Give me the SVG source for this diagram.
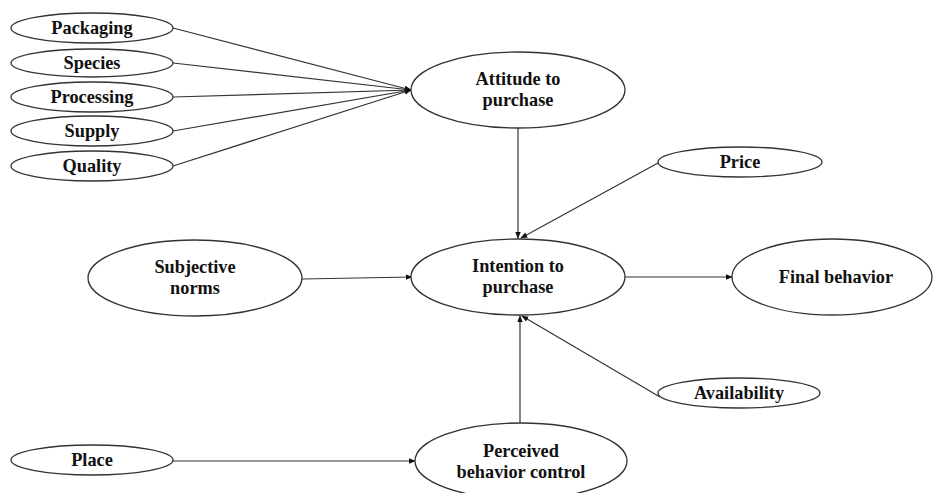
<svg xmlns="http://www.w3.org/2000/svg" width="934" height="493" viewBox="0 0 934 493">
<style>
.n{fill:#fff;stroke:#333;stroke-width:1.3}
.t{font-family:'Liberation Serif','DejaVu Serif',serif;font-weight:700;font-size:18.3px;fill:#111;text-anchor:middle}
.c{stroke:#333;stroke-width:1.2;fill:none;marker-end:url(#ah)}
</style>
<defs>
<marker id="ah" viewBox="0 0 10 10" refX="9" refY="5" markerWidth="7" markerHeight="7" markerUnits="userSpaceOnUse" orient="auto">
<path d="M0,1 L10,5 L0,9 z" fill="#111"/>
</marker>
</defs>
<rect width="934" height="493" fill="#fff"/>
<g id="connectors">
<line class="c" x1="173" y1="28" x2="411" y2="90"/>
<line class="c" x1="173" y1="63" x2="411" y2="90"/>
<line class="c" x1="173" y1="97" x2="411" y2="90"/>
<line class="c" x1="173" y1="131" x2="411" y2="90"/>
<line class="c" x1="173" y1="166" x2="411" y2="90"/>
<line class="c" x1="518" y1="128" x2="518" y2="238"/>
<line class="c" x1="658" y1="163" x2="521" y2="238"/>
<line class="c" x1="302" y1="279" x2="412" y2="277"/>
<line class="c" x1="625" y1="277" x2="732" y2="277"/>
<line class="c" x1="660" y1="397" x2="522" y2="316"/>
<line class="c" x1="520" y1="423" x2="520" y2="316"/>
<line class="c" x1="173" y1="461" x2="415" y2="461"/>
</g>
<g id="packaging"><ellipse class="n" cx="92" cy="28" rx="81" ry="15"/><text class="t" x="92" y="34">Packaging</text></g>
<g id="species"><ellipse class="n" cx="92" cy="63" rx="81" ry="14"/><text class="t" x="92" y="69">Species</text></g>
<g id="processing"><ellipse class="n" cx="92" cy="97" rx="81" ry="15"/><text class="t" x="92" y="103">Processing</text></g>
<g id="supply"><ellipse class="n" cx="92" cy="131" rx="81" ry="15"/><text class="t" x="92" y="137">Supply</text></g>
<g id="quality"><ellipse class="n" cx="92" cy="166" rx="81" ry="15"/><text class="t" x="92" y="172">Quality</text></g>
<g id="attitude"><ellipse class="n" cx="518" cy="90" rx="107" ry="38"/><text class="t" x="518" y="85">Attitude to</text><text class="t" x="518" y="106">purchase</text></g>
<g id="price"><ellipse class="n" cx="740" cy="162" rx="82" ry="15"/><text class="t" x="740" y="168">Price</text></g>
<g id="subjective"><ellipse class="n" cx="195" cy="278" rx="107" ry="38"/><text class="t" x="195" y="273">Subjective</text><text class="t" x="195" y="294">norms</text></g>
<g id="intention"><ellipse class="n" cx="518" cy="277" rx="107" ry="38"/><text class="t" x="518" y="272">Intention to</text><text class="t" x="518" y="293">purchase</text></g>
<g id="final"><ellipse class="n" cx="832" cy="277" rx="100" ry="38"/><text class="t" x="836" y="283">Final behavior</text></g>
<g id="availability"><ellipse class="n" cx="739" cy="393" rx="81" ry="15"/><text class="t" x="739" y="399">Availability</text></g>
<g id="place"><ellipse class="n" cx="92" cy="460" rx="81" ry="15"/><text class="t" x="92" y="466">Place</text></g>
<g id="perceived"><ellipse class="n" cx="521" cy="461" rx="106" ry="38"/><text class="t" x="521" y="457">Perceived</text><text class="t" x="521" y="478">behavior control</text></g>
</svg>
